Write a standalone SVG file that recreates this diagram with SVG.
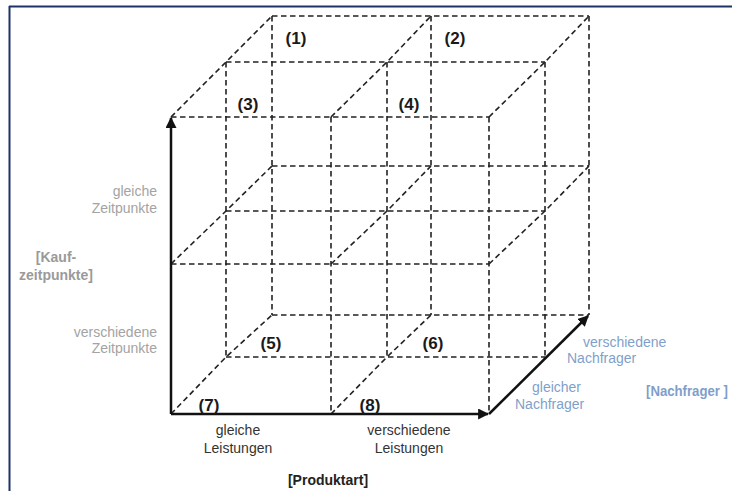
<svg xmlns="http://www.w3.org/2000/svg" width="732" height="491" viewBox="0 0 732 491">
<style>
.d{fill:none;stroke:#222;stroke-width:1.6;stroke-dasharray:5.5 3.5}
.ax{fill:none;stroke:#111;stroke-width:2.5}
.num{font-family:"Liberation Sans",Arial,sans-serif;font-weight:bold;font-size:17px;fill:#1a1a1a;text-anchor:middle}
.g{font-family:"Liberation Sans",Arial,sans-serif;font-size:14px;fill:#a3a3a3}
.gb{font-family:"Liberation Sans",Arial,sans-serif;font-size:14px;font-weight:bold;fill:#9a9a9a;text-anchor:middle}
.k{font-family:"Liberation Sans",Arial,sans-serif;font-size:14px;fill:#333;text-anchor:middle}
.kb{font-family:"Liberation Sans",Arial,sans-serif;font-size:14px;font-weight:bold;fill:#222;text-anchor:middle}
.b{font-family:"Liberation Sans",Arial,sans-serif;font-size:14px;fill:#7f9fca}
.bb{font-family:"Liberation Sans",Arial,sans-serif;font-size:14px;font-weight:bold;fill:#7f9fca}
</style>
<defs>
<marker id="ah" viewBox="0 0 10 10" refX="9" refY="5" markerWidth="4.4" markerHeight="4.4" markerUnits="strokeWidth" orient="auto">
<path d="M0,0 L10,5 L0,10 Z" fill="#111"/>
</marker>
</defs>
<rect width="732" height="491" fill="#fff"/>
<g id="frame">
<line x1="9" y1="6.5" x2="732" y2="6.5" stroke="#1c3566" stroke-width="2"/>
<line x1="9.5" y1="6" x2="9.5" y2="491" stroke="#1c3566" stroke-width="2"/>
</g>
<g id="connectors">
<path class="d" d="M171,117 H489 M171,264 H489 M331,117 V414 M489,117 V414"/>
<path class="d" d="M226,62 H545 M226,211 H545 M226,357 H545 M226,62 V357 M387,62 V357 M545,62 V357"/>
<path class="d" d="M272,16 H589 M272,166 H589 M272,315 H589 M272,16 V315 M431,16 V315 M589,16 V315"/>
<path class="d" d="M171,117 L226,62 L272,16 M331,117 L387,62 L431,16 M489,117 L545,62 L589,16 M171,264 L226,211 L272,166 M331,264 L387,211 L431,166 M489,264 L545,211 L589,166 M171,414 L226,357 L272,315 M331,414 L387,357 L431,315"/>
<line class="ax" x1="171" y1="414" x2="171" y2="118" marker-end="url(#ah)"/>
<line class="ax" x1="171" y1="414" x2="488" y2="414" marker-end="url(#ah)"/>
<line class="ax" x1="489" y1="414" x2="588" y2="316" marker-end="url(#ah)"/>
</g>
<g id="cell1"><text class="num" x="296" y="44">(1)</text></g>
<g id="cell2"><text class="num" x="455" y="44">(2)</text></g>
<g id="cell3"><text class="num" x="248" y="110">(3)</text></g>
<g id="cell4"><text class="num" x="409" y="110">(4)</text></g>
<g id="cell5"><text class="num" x="271" y="349">(5)</text></g>
<g id="cell6"><text class="num" x="433" y="349">(6)</text></g>
<g id="cell7"><text class="num" x="209" y="411">(7)</text></g>
<g id="cell8"><text class="num" x="370" y="411">(8)</text></g>
<g id="axis-kauf">
<text class="g" x="157" y="196" text-anchor="end">gleiche</text>
<text class="g" x="157" y="213" text-anchor="end">Zeitpunkte</text>
<text class="gb" x="56" y="262">[Kauf-</text>
<text class="gb" x="56" y="280">zeitpunkte]</text>
<text class="g" x="157" y="337" text-anchor="end">verschiedene</text>
<text class="g" x="157" y="353" text-anchor="end">Zeitpunkte</text>
</g>
<g id="axis-produkt">
<text class="k" x="238" y="435">gleiche</text>
<text class="k" x="238" y="453">Leistungen</text>
<text class="k" x="409" y="435">verschiedene</text>
<text class="k" x="409" y="453">Leistungen</text>
<text class="kb" x="328" y="485">[Produktart]</text>
</g>
<g id="axis-nachfrager">
<text class="b" x="583" y="347">verschiedene</text>
<text class="b" x="567" y="363">Nachfrager</text>
<text class="b" x="532" y="392">gleicher</text>
<text class="b" x="515" y="409">Nachfrager</text>
<text class="bb" x="646" y="396" textLength="82" lengthAdjust="spacingAndGlyphs">[Nachfrager ]</text>
</g>
</svg>
